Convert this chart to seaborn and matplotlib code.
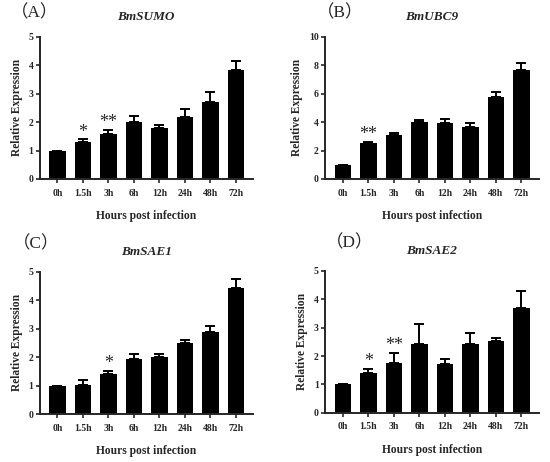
import numpy as np
import matplotlib
matplotlib.use("Agg")
import matplotlib.pyplot as plt
import seaborn as sns

# Données (moyenne + erreur haute)
times = ["0h", "1.5h", "3h", "6h", "12h", "24h", "48h", "72h"]

sumo_mean = [1.0, 1.29, 1.59, 2.0, 1.79, 2.17, 2.72, 3.82]
sumo_err = [0.0, 0.10, 0.14, 0.21, 0.11, 0.30, 0.35, 0.34]
sumo_sig = ["", "*", "**", "", "", "", "", ""]

ubc9_mean = [1.0, 2.5, 3.09, 3.98, 3.96, 3.68, 5.76, 7.68]
ubc9_err = [0.0, 0.12, 0.14, 0.17, 0.26, 0.25, 0.35, 0.49]
ubc9_sig = ["", "**", "", "", "", "", "", ""]

sae1_mean = [1.0, 1.03, 1.41, 1.92, 2.0, 2.49, 2.89, 4.43]
sae1_err = [0.0, 0.17, 0.10, 0.18, 0.12, 0.10, 0.20, 0.33]
sae1_sig = ["", "", "*", "", "", "", "", ""]

sae2_mean = [1.0, 1.39, 1.74, 2.41, 1.71, 2.41, 2.54, 3.68]
sae2_err = [0.0, 0.16, 0.37, 0.71, 0.17, 0.39, 0.08, 0.60]
sae2_sig = ["", "*", "**", "", "", "", "", ""]

sns.set_style("ticks")
plt.rcParams["font.family"] = ["Liberation Serif", "Noto Sans CJK SC"]

W, H = 550, 462
fig = plt.figure(figsize=(W / 100, H / 100), dpi=100)


def px_axes(left, top, right, bottom):
    return fig.add_axes([left / W, 1 - bottom / H, (right - left) / W, (bottom - top) / H])


def panel(ax, mean, err, sig, gene, ymax, ystep):
    x = np.arange(len(times))
    sns.barplot(x=times, y=mean, color="black", saturation=1, width=0.65,
                errorbar=None, edgecolor="black", linewidth=0, ax=ax)
    ax.errorbar(x, mean, yerr=[np.zeros(len(err)), err], fmt="none",
                ecolor="black", elinewidth=1.4, capsize=3.6, capthick=1.4)
    for i, s in enumerate(sig):
        if s:
            ax.annotate(s, xy=(i, mean[i] + err[i]), xytext=(0, 2),
                        textcoords="offset points", ha="center", va="baseline",
                        fontsize=13)
    ax.set_xlim(-0.7, 7.68)
    ax.set_ylim(0, ymax)
    ax.set_yticks(np.arange(0, ymax + 0.1, ystep))
    sns.despine(ax=ax)
    for sp in ("left", "bottom"):
        ax.spines[sp].set_linewidth(1.4)
    ax.tick_params(axis="both", width=1.2, length=3, labelsize=7)
    ax.tick_params(axis="y", pad=1.5)
    ax.tick_params(axis="x", pad=4)
    for lab in ax.get_xticklabels() + ax.get_yticklabels():
        lab.set_fontweight("bold")
    ax.set_xlabel("Hours post infection", fontsize=8.3, fontweight="bold", labelpad=9)
    ax.set_ylabel("Relative Expression", fontsize=8.3, fontweight="bold", labelpad=4)
    ax.set_title(gene, fontsize=9.5, fontweight="bold", fontstyle="italic", pad=12)


ax_a = px_axes(39.5, 36.7, 253.2, 179)
ax_b = px_axes(325, 36.7, 538.7, 179)
ax_c = px_axes(39.5, 271.7, 253.2, 414)
ax_d = px_axes(325, 271, 538.7, 412.7)

panel(ax_a, sumo_mean, sumo_err, sumo_sig, "BmSUMO", 5, 1)
panel(ax_b, ubc9_mean, ubc9_err, ubc9_sig, "BmUBC9", 10, 2)
panel(ax_c, sae1_mean, sae1_err, sae1_sig, "BmSAE1", 5, 1)
panel(ax_d, sae2_mean, sae2_err, sae2_sig, "BmSAE2", 5, 1)

for lab, xp, yp in [("（A）", 35, 13.3), ("（B）", 340, 13.3),
                    ("（C）", 35.8, 243.7), ("（D）", 349.7, 243.3)]:
    fig.text(xp / W, 1 - yp / H, lab, fontsize=12.5, ha="center", va="center")

fig.savefig("out.png", dpi=100)
